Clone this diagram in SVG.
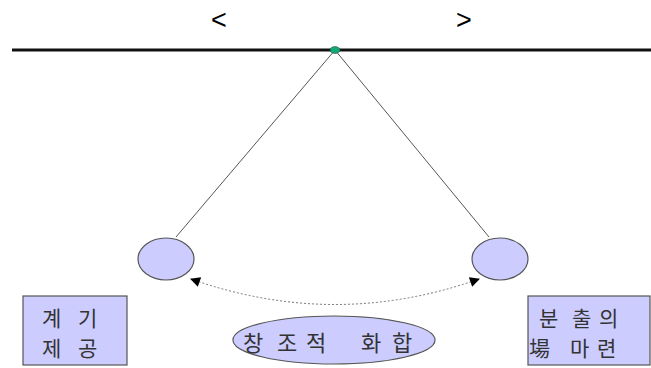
<svg xmlns="http://www.w3.org/2000/svg" width="651" height="368" viewBox="0 0 651 368">
<style>
.shape{fill:#ccccff;stroke:#555;stroke-width:1.2}
.t{font-family:"Noto Sans CJK KR","Liberation Sans",sans-serif;fill:#333;font-size:21px}
.br{font-family:"Liberation Sans",sans-serif;font-size:27px;fill:#000}
</style>
<defs>
<marker id="ah" viewBox="0 0 10 10" refX="9" refY="5" markerWidth="11" markerHeight="10" orient="auto-start-reverse" markerUnits="userSpaceOnUse">
<path d="M0,0 L10,5 L0,10 z" fill="#000"/>
</marker>
</defs>
<rect width="651" height="368" fill="#fff"/>
<text class="br" x="211" y="29">&lt;</text>
<text class="br" x="456" y="29">&gt;</text>
<g id="edges">
<line x1="12" y1="50" x2="651" y2="50" stroke="#111" stroke-width="3"/>
<line x1="335" y1="50" x2="176" y2="237" stroke="#555" stroke-width="1"/>
<line x1="335" y1="50" x2="489" y2="237" stroke="#555" stroke-width="1"/>
<path d="M479,279 Q335,330 191,279" fill="none" stroke="#777" stroke-width="1" stroke-dasharray="2,2" marker-start="url(#ah)" marker-end="url(#ah)"/>
</g>
<g id="pivot"><ellipse cx="335" cy="50" rx="5" ry="3.5" fill="#11aa77" stroke="#333" stroke-width="0.5"/></g>
<g id="ball-left"><ellipse class="shape" cx="166" cy="259" rx="28" ry="21"/></g>
<g id="ball-right"><ellipse class="shape" cx="500" cy="259" rx="28" ry="21"/></g>
<g id="box-left">
<rect class="shape" x="23" y="296" width="104" height="69"/>
<text class="t" x="42 62 78" y="326">계 기</text>
<text class="t" x="42 62 78" y="356">제 공</text>
</g>
<g id="box-right">
<rect class="shape" x="528" y="296" width="122" height="69"/>
<text class="t" x="539 560 572 593 599" y="326">분 출 의</text>
<text class="t" x="529 550 570 590 597" y="356">場 마 련</text>
</g>
<g id="ellipse-bottom">
<ellipse class="shape" cx="334" cy="340" rx="101" ry="24"/>
<text class="t" x="243 265 277 298 306 330 361 382 392" y="351" style="font-size:22px">창 조 적 화 합</text>
</g>
</svg>
